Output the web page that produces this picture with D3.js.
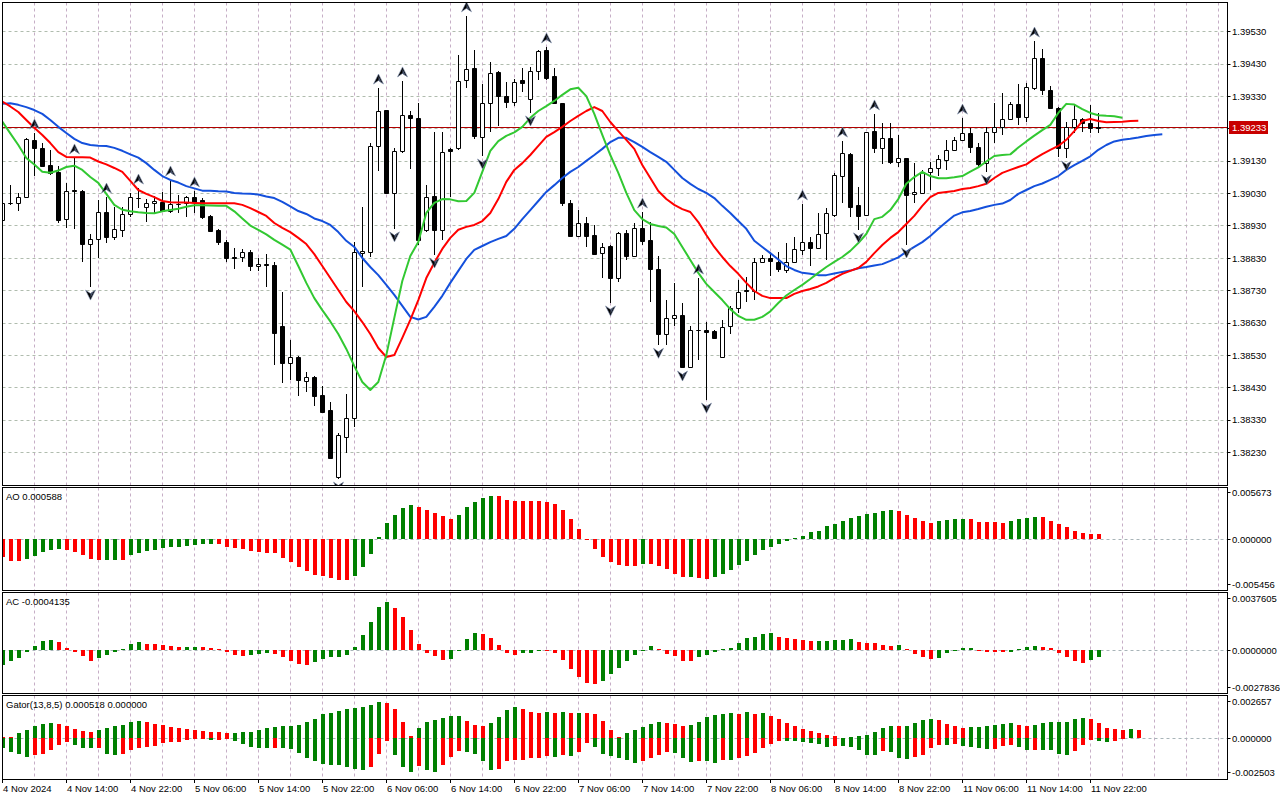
<!DOCTYPE html>
<html>
<head>
<meta charset="utf-8">
<script src="https://cdn.jsdelivr.net/npm/d3@7"></script>
<style>
  body { margin: 0; background: #fff; }
  text { font-family: "Liberation Sans", Arial, sans-serif; font-size: 9.5px; fill: #000; }
</style>
</head>
<body>
<svg id="chart" width="1280" height="800"></svg>
<script>
// hourly bars, 4 Nov 06:00 .. 11 Nov 23:00
const open = [1.38948,1.39001,1.39001,1.39019,1.39196,1.39171,1.39118,1.39097,1.38951,1.39041,
1.39038,1.38874,1.38890,1.38973,1.38896,1.38918,1.38967,1.39016,1.38989,1.39001,
1.39004,1.38976,1.38998,1.39001,1.39019,1.39010,1.38961,1.38918,1.38880,1.38834,
1.38834,1.38850,1.38806,1.38812,1.38809,1.38621,1.38507,1.38525,1.38451,1.38463,
1.38408,1.38361,1.38154,1.38278,1.38337,1.38847,1.38850,1.39177,1.39288,1.39032,
1.39162,1.39273,1.39263,1.38918,1.39023,1.38918,1.39168,1.39171,1.39381,1.39418,
1.39205,1.39310,1.39406,1.39331,1.39313,1.39381,1.39322,1.39409,1.39473,1.39393,
1.39310,1.39001,1.38899,1.38939,1.38902,1.38847,1.38868,1.38769,1.38908,1.38837,
1.38924,1.38887,1.38797,1.38596,1.38646,1.38655,1.38494,1.38609,1.38609,1.38605,
1.38525,1.38621,1.38677,1.38732,1.38729,1.38819,1.38831,1.38819,1.38794,1.38819,
1.38856,1.38880,1.38862,1.38908,1.38964,1.39084,1.39152,1.38995,1.38964,1.39223,
1.39171,1.39202,1.39128,1.39140,1.39029,1.39032,1.39097,1.39109,1.39134,1.39165,
1.39196,1.39217,1.39174,1.39124,1.39220,1.39236,1.39260,1.39307,1.39267,1.39356,
1.39449,1.39350,1.39294,1.39171,1.39236,1.39260,1.39248,1.39236];

const high = [1.39016,1.39056,1.39032,1.39202,1.39217,1.39186,1.39165,1.39115,1.39063,1.39140,
1.39041,1.38905,1.39010,1.39019,1.38989,1.38989,1.39032,1.39047,1.39013,1.39023,
1.39035,1.39072,1.39026,1.39023,1.39038,1.39016,1.38964,1.38921,1.38887,1.38862,
1.38859,1.38856,1.38831,1.38843,1.38819,1.38726,1.38578,1.38528,1.38479,1.38466,
1.38436,1.38386,1.38290,1.38411,1.38880,1.38989,1.39186,1.39356,1.39289,1.39171,
1.39378,1.39285,1.39310,1.39056,1.39220,1.39219,1.39171,1.39458,1.39579,1.39473,
1.39368,1.39436,1.39409,1.39375,1.39384,1.39418,1.39421,1.39473,1.39483,1.39418,
1.39311,1.39010,1.38979,1.38958,1.38933,1.38877,1.38871,1.38911,1.38918,1.38939,
1.38973,1.38942,1.38837,1.38701,1.38754,1.38692,1.38621,1.38769,1.38633,1.38610,
1.38639,1.38683,1.38763,1.38772,1.38831,1.38840,1.38850,1.38850,1.38877,1.38896,
1.38998,1.38896,1.38970,1.38985,1.39094,1.39192,1.39155,1.39050,1.39221,1.39276,
1.39248,1.39248,1.39211,1.39141,1.39124,1.39103,1.39128,1.39149,1.39196,1.39205,
1.39263,1.39233,1.39186,1.39236,1.39310,1.39341,1.39313,1.39368,1.39372,1.39501,
1.39477,1.39362,1.39297,1.39251,1.39304,1.39263,1.39304,1.39279];

const low = [1.38942,1.38995,1.38976,1.39018,1.39084,1.39114,1.39087,1.38939,1.38924,1.38921,
1.38819,1.38741,1.38831,1.38877,1.38887,1.38896,1.38958,1.38985,1.38942,1.38970,
1.38973,1.38970,1.38970,1.38958,1.38970,1.38951,1.38911,1.38871,1.38819,1.38797,
1.38819,1.38791,1.38791,1.38741,1.38500,1.38445,1.38454,1.38405,1.38417,1.38374,
1.38354,1.38210,1.38148,1.38229,1.38309,1.38741,1.38834,1.39100,1.39031,1.38921,
1.39155,1.39106,1.38871,1.38911,1.38840,1.38887,1.39019,1.39165,1.39356,1.39199,
1.39146,1.39220,1.39239,1.39294,1.39301,1.39344,1.39279,1.39381,1.39381,1.39307,
1.38992,1.38896,1.38896,1.38865,1.38840,1.38769,1.38692,1.38757,1.38825,1.38834,
1.38871,1.38695,1.38561,1.38562,1.38621,1.38491,1.38493,1.38516,1.38392,1.38581,
1.38522,1.38596,1.38661,1.38695,1.38701,1.38816,1.38775,1.38788,1.38785,1.38816,
1.38840,1.38806,1.38861,1.38825,1.38958,1.39001,1.38958,1.38918,1.38961,1.39155,
1.39121,1.39121,1.39112,1.38871,1.39001,1.39031,1.39041,1.39084,1.39103,1.39164,
1.39195,1.39155,1.39112,1.39097,1.39186,1.39211,1.39257,1.39242,1.39251,1.39350,
1.39334,1.39293,1.39143,1.39140,1.39217,1.39220,1.39217,1.39217];

const close = [1.39001,1.39000,1.39019,1.39199,1.39171,1.39115,1.39094,1.38948,1.39038,1.39038,
1.38874,1.38890,1.38973,1.38896,1.38921,1.38967,1.39019,1.39015,1.39001,1.39007,
1.38976,1.38998,1.38999,1.39019,1.39004,1.38958,1.38914,1.38880,1.38831,1.38831,
1.38850,1.38806,1.38812,1.38809,1.38599,1.38507,1.38525,1.38454,1.38463,1.38405,
1.38355,1.38213,1.38284,1.38337,1.38850,1.38853,1.39177,1.39285,1.39032,1.39162,
1.39273,1.39263,1.38887,1.39019,1.38918,1.39158,1.39162,1.39378,1.39415,1.39208,
1.39310,1.39402,1.39331,1.39313,1.39375,1.39372,1.39409,1.39470,1.39387,1.39310,
1.39001,1.38899,1.38939,1.38899,1.38843,1.38865,1.38769,1.38908,1.38837,1.38924,
1.38884,1.38797,1.38596,1.38646,1.38655,1.38494,1.38609,1.38608,1.38602,1.38584,
1.38618,1.38677,1.38726,1.38729,1.38819,1.38831,1.38822,1.38797,1.38819,1.38859,
1.38880,1.38862,1.38905,1.38970,1.39087,1.39155,1.38989,1.38961,1.39220,1.39171,
1.39202,1.39128,1.39140,1.39026,1.39035,1.39097,1.39109,1.39137,1.39165,1.39196,
1.39217,1.39174,1.39121,1.39220,1.39236,1.39260,1.39307,1.39267,1.39359,1.39449,
1.39350,1.39294,1.39171,1.39236,1.39260,1.39248,1.39233,1.39233];

// Alligator lines as displayed (already shifted forward 8 / 5 / 3 bars)
const jaw = [1.39307,1.39309,1.39304,1.39297,1.39288,1.39276,1.39257,1.39236,1.39217,1.39199,
1.39186,1.39180,1.39178,1.39177,1.39171,1.39162,1.39151,1.39141,1.39124,1.39103,
1.39084,1.39072,1.39064,1.39053,1.39046,1.39039,1.39039,1.39037,1.39036,1.39032,
1.39030,1.39029,1.39027,1.39021,1.39016,1.39004,1.38990,1.38976,1.38967,1.38953,
1.38945,1.38933,1.38911,1.38884,1.38865,1.38831,1.38803,1.38778,1.38748,1.38717,
1.38683,1.38649,1.38641,1.38649,1.38680,1.38714,1.38754,1.38791,1.38828,1.38856,
1.38868,1.38880,1.38890,1.38899,1.38921,1.38951,1.38979,1.39007,1.39035,1.39056,
1.39078,1.39097,1.39112,1.39131,1.39149,1.39168,1.39189,1.39202,1.39202,1.39189,
1.39174,1.39158,1.39143,1.39128,1.39103,1.39078,1.39060,1.39044,1.39032,1.39016,
1.38992,1.38970,1.38945,1.38921,1.38884,1.38865,1.38846,1.38826,1.38806,1.38794,
1.38785,1.38782,1.38778,1.38778,1.38783,1.38788,1.38792,1.38799,1.38803,1.38808,
1.38812,1.38822,1.38833,1.38850,1.38865,1.38880,1.38899,1.38921,1.38942,1.38962,
1.38972,1.38976,1.38982,1.38989,1.38995,1.38999,1.39010,1.39029,1.39041,1.39053,
1.39061,1.39072,1.39084,1.39103,1.39118,1.39131,1.39145,1.39165,1.39180,1.39191,
1.39196,1.39199,1.39203,1.39208,1.39211,1.39213];

const teeth = [1.39314,1.39299,1.39282,1.39257,1.39233,1.39211,1.39186,1.39158,1.39143,1.39142,
1.39142,1.39141,1.39129,1.39120,1.39109,1.39097,1.39069,1.39041,1.39029,1.39019,
1.39007,1.39003,1.39002,1.39002,1.39001,1.39000,1.39000,1.39000,1.39000,1.39000,
1.38995,1.38985,1.38973,1.38961,1.38939,1.38924,1.38911,1.38893,1.38874,1.38843,
1.38806,1.38769,1.38732,1.38695,1.38667,1.38633,1.38596,1.38553,1.38525,1.38531,
1.38584,1.38640,1.38701,1.38769,1.38816,1.38859,1.38893,1.38918,1.38927,1.38933,
1.38945,1.38970,1.39013,1.39066,1.39103,1.39124,1.39149,1.39177,1.39205,1.39220,
1.39236,1.39254,1.39270,1.39285,1.39297,1.39285,1.39251,1.39223,1.39196,1.39168,
1.39118,1.39078,1.39038,1.39013,1.38995,1.38982,1.38973,1.38942,1.38902,1.38865,
1.38834,1.38806,1.38782,1.38754,1.38729,1.38714,1.38707,1.38707,1.38707,1.38720,
1.38729,1.38735,1.38743,1.38754,1.38769,1.38782,1.38791,1.38800,1.38819,1.38846,
1.38871,1.38893,1.38911,1.38936,1.38961,1.38992,1.39019,1.39032,1.39035,1.39038,
1.39044,1.39047,1.39053,1.39060,1.39078,1.39094,1.39103,1.39112,1.39120,1.39137,
1.39152,1.39165,1.39177,1.39196,1.39223,1.39254,1.39260,1.39254,1.39250,1.39251,
1.39252,1.39254,1.39255];

const lips = [1.39252,1.39216,1.39180,1.39140,1.39120,1.39097,1.39094,1.39101,1.39112,1.39116,
1.39103,1.39081,1.39063,1.39029,1.38995,1.38980,1.38975,1.38972,1.38970,1.38969,
1.38975,1.38979,1.38983,1.38989,1.38994,1.38994,1.38993,1.38992,1.38992,1.38975,
1.38953,1.38931,1.38918,1.38904,1.38887,1.38872,1.38857,1.38806,1.38754,1.38707,
1.38670,1.38635,1.38596,1.38550,1.38497,1.38448,1.38423,1.38448,1.38531,1.38646,
1.38760,1.38837,1.38880,1.38970,1.39001,1.39013,1.39012,1.39006,1.39007,1.39032,
1.39097,1.39162,1.39192,1.39208,1.39219,1.39236,1.39264,1.39285,1.39300,1.39316,
1.39335,1.39352,1.39357,1.39331,1.39276,1.39211,1.39149,1.39094,1.39032,1.38979,
1.38951,1.38936,1.38930,1.38925,1.38905,1.38865,1.38825,1.38785,1.38751,1.38726,
1.38701,1.38673,1.38652,1.38640,1.38640,1.38649,1.38666,1.38692,1.38715,1.38732,
1.38748,1.38766,1.38785,1.38803,1.38819,1.38834,1.38853,1.38877,1.38905,1.38951,
1.38958,1.38979,1.39013,1.39060,1.39081,1.39097,1.39084,1.39077,1.39077,1.39080,
1.39084,1.39098,1.39111,1.39129,1.39146,1.39149,1.39151,1.39172,1.39191,1.39209,
1.39226,1.39242,1.39279,1.39307,1.39305,1.39291,1.39279,1.39272,1.39270,1.39269,
1.39264];

// bar indexes carrying a fractal arrow
const fractalUp = [4, 9, 13, 17, 21, 24, 47, 50, 58, 68, 80, 87, 100, 105, 109, 120, 129];
const fractalDown = [11, 42, 49, 54, 60, 66, 76, 82, 85, 88, 107, 113, 123, 133];

// oscillators, units of 0.0001
const ao = [-19.1,-23.9,-23.9,-22.0,-18.4,-13.6,-11.8,-10.6,-11.8,-14.3,
-17.3,-21.7,-22.8,-22.6,-22.4,-22.9,-17.3,-14.7,-12.9,-11.8,
-9.2,-8.1,-8.0,-7.0,-6.2,-5.5,-5.1,-5.5,-8.1,-9.9,
-10.6,-12.9,-14.3,-14.4,-15.4,-20.9,-25.3,-30.1,-34.9,-38.6,
-40.0,-42.2,-44.8,-44.9,-40.4,-30.1,-16.5,2.2,18.4,27.5,
34.9,37.8,35.3,32.3,29.7,25.7,23.1,27.5,35.3,41.5,
45.2,48.1,47.7,43.3,42.9,42.8,42.0,41.9,41.1,39.3,
33.0,23.1,12.1,-0.4,-11.0,-19.8,-25.3,-28.3,-29.0,-29.1,
-27.2,-27.3,-29.4,-32.3,-37.8,-41.1,-41.0,-42.6,-43.0,-41.5,
-37.5,-33.8,-28.3,-23.9,-17.3,-11.8,-8.1,-5.1,-1.8,1.1,
4.0,7.7,9.9,14.7,17.6,20.9,23.5,25.7,28.6,28.7,
31.2,33.0,31.2,27.5,24.2,20.9,18.7,20.9,21.0,22.4,
23.1,22.4,19.8,19.7,19.6,18.7,20.9,22.4,23.9,24.6,
24.5,20.9,17.6,13.6,8.8,6.6,6.5,5.88];

const ac = [-9.8,-7.1,-4.9,-1.1,2.7,6.0,6.7,5.3,1.3,-1.1,
-3.8,-7.1,-5.3,-3.1,-0.9,0.7,4.0,5.3,4.5,4.0,
3.3,2.7,2.2,2.3,2.4,2.0,1.3,0.7,-1.1,-3.1,
-3.8,-3.3,-2.2,-1.6,-2.7,-4.5,-7.1,-9.3,-9.8,-7.6,
-5.6,-4.5,-4.4,-3.1,2.0,10.0,18.9,29.2,32.5,28.0,
22.3,13.8,4.0,-1.6,-3.8,-6.5,-6.0,0.2,7.3,11.4,
10.7,8.5,3.3,-1.6,-3.3,-1.8,-1.7,-0.3,-0.5,-2.0,
-6.7,-12.7,-17.8,-22.0,-22.3,-20.5,-16.0,-11.6,-7.1,-3.3,
0.2,2.7,0.7,-2.7,-3.8,-7.1,-7.2,-4.5,-3.1,-0.9,
0.7,1.8,5.1,8.5,9.1,10.7,11.4,9.1,8.5,7.3,
6.7,6.2,6.3,6.4,6.7,7.0,7.3,5.3,5.2,5.1,
3.3,3.2,3.6,0.7,-2.7,-4.5,-5.6,-5.3,-1.6,-0.4,
1.3,1.4,-0.4,-0.9,-1.0,-1.1,-0.9,0.7,2.2,2.7,
2.2,1.3,-1.6,-4.5,-7.1,-8.2,-6.5,-4.135];

const gatorUp = [1.08,1.08,3.23,5.38,7.74,9.03,9.68,9.46,7.74,6.02,
4.52,3.87,5.38,6.67,7.96,8.6,10.75,11.18,10.32,9.03,
8.39,7.53,6.67,6.02,5.38,4.52,4.09,3.87,3.44,3.66,
3.87,4.3,5.38,6.88,7.31,7.74,7.96,8.39,10.32,12.26,
15.48,16.56,17.63,18.71,19.35,20.21,21.29,23.22,23.0,18.71,
10.32,1.29,6.45,10.32,11.61,12.9,14.19,14.41,10.97,8.39,
8.17,9.68,13.55,18.06,20.0,18.71,16.77,16.56,16.77,16.13,
16.77,16.13,16.34,16.13,15.48,10.97,5.16,0.65,3.23,5.16,
7.1,9.03,10.32,9.68,9.03,7.74,8.39,10.32,13.55,14.84,
15.48,16.13,15.91,16.77,15.48,16.13,14.19,12.26,9.68,7.74,
5.81,4.52,3.23,1.94,1.29,0.22,0.65,1.29,1.94,3.87,
6.45,7.74,7.63,7.85,9.68,11.61,12.26,11.61,9.03,7.74,
6.45,7.1,7.2,7.74,8.39,9.03,9.68,8.39,7.74,8.39,
9.68,10.32,10.43,10.54,12.26,12.9,12.26,9.68,6.45,5.81,
5.59,6.02,5.18];

const gatorDown = [-6.02,-8.82,-10.32,-12.04,-10.75,-10.32,-7.53,-4.3,-2.37,-4.3,
-6.02,-6.24,-6.02,-9.89,-10.75,-10.32,-7.74,-6.02,-5.38,-4.95,
-3.23,-2.58,-2.15,-1.29,-0.65,-0.43,-1.08,-0.86,-0.65,-1.72,
-3.87,-5.59,-6.45,-6.56,-6.24,-6.45,-6.67,-9.46,-12.47,-14.62,
-16.77,-17.2,-17.42,-18.49,-20.0,-20.64,-18.49,-10.32,-1.72,-10.97,
-18.49,-21.72,-17.85,-20.64,-21.73,-17.42,-12.04,-8.17,-8.82,-10.32,
-14.62,-20.64,-20.0,-14.62,-13.98,-13.76,-12.9,-12.47,-11.18,-12.04,
-10.97,-11.4,-8.82,-3.23,-5.59,-10.32,-11.61,-12.9,-14.19,-15.91,
-14.62,-12.9,-10.97,-9.03,-9.68,-12.9,-15.48,-14.62,-14.84,-15.91,
-13.98,-14.19,-12.9,-11.4,-9.46,-6.24,-3.66,-1.72,-1.83,-1.94,
-2.37,-3.23,-3.87,-5.59,-4.95,-5.16,-5.59,-7.53,-10.75,-10.86,
-8.17,-8.82,-12.69,-13.33,-12.04,-10.75,-6.24,-4.3,-4.41,-3.87,
-4.95,-5.59,-6.24,-6.88,-6.67,-4.95,-4.3,-5.59,-7.53,-7.31,
-7.53,-7.74,-10.11,-10.75,-8.17,-4.3,-1.08,-1.72,-2.37,-1.72,
-0.43];

const priceTicks = [1.38230,1.38330,1.38430,1.38530,1.38630,1.38730,1.38830,
                    1.38930,1.39030,1.39130,1.39230,1.39330,1.39430,1.39530];
const lastPrice = 1.39233;
const timeLabels = ['4 Nov 2024','4 Nov 14:00','4 Nov 22:00','5 Nov 06:00','5 Nov 14:00',
  '5 Nov 22:00','6 Nov 06:00','6 Nov 14:00','6 Nov 22:00','7 Nov 06:00','7 Nov 14:00',
  '7 Nov 22:00','8 Nov 06:00','8 Nov 14:00','8 Nov 22:00','11 Nov 06:00','11 Nov 14:00','11 Nov 22:00'];
const timeBars = [0,8,16,24,32,40,48,56,64,72,80,88,96,104,112,120,128,136];

// ---------------------------------------------------------------
const svg = d3.select('#chart');
const L = 2.5, R = 1227.5;
const panels = {
  main:  {top: 2.5,   bottom: 485.5},
  ao:    {top: 487.5, bottom: 590.5},
  ac:    {top: 592.5, bottom: 693.5},
  gator: {top: 695.5, bottom: 779.5}
};
const GREEN = '#008000', RED = '#ff0000';

const xScale = d3.scaleLinear().domain([0, 145]).range([2.3, 1162.3]);
const px = i => Math.round(xScale(i));
const yMain = d3.scaleLinear().domain([1.38130, 1.39622]).range([484.9, 1.9]);
const yAO = d3.scaleLinear().domain([-54.56, 56.73]).range([589, 488]);
const yAC = d3.scaleLinear().domain([-27.836, 37.605]).range([692, 594]);
const yGt = d3.scaleLinear().domain([-25.03, 26.57]).range([777, 697]);

const defs = svg.append('defs');
Object.entries(panels).forEach(([k, p]) => {
  defs.append('clipPath').attr('id', 'clip-' + k)
    .append('rect').attr('x', L).attr('y', p.top)
    .attr('width', R - L).attr('height', p.bottom - p.top);
});

// vertical grid every 4 bars, all panels
const gridBars = d3.range(4, 153, 4);
Object.values(panels).forEach(p => {
  svg.append('g').selectAll('line').data(gridBars).join('line')
    .attr('x1', d => px(d) + 0.5).attr('x2', d => px(d) + 0.5)
    .attr('y1', p.top).attr('y2', p.bottom)
    .attr('stroke', '#c6aec6').attr('stroke-dasharray', '3,3');
});

// horizontal grid (main)
svg.append('g').selectAll('line').data(priceTicks).join('line')
  .attr('x1', L).attr('x2', R)
  .attr('y1', d => Math.floor(yMain(d)) + 0.5).attr('y2', d => Math.floor(yMain(d)) + 0.5)
  .attr('stroke', '#b0bcae').attr('stroke-dasharray', '3,3');

// zero lines of sub windows
[yAO, yAC, yGt].forEach(s => {
  svg.append('line')
    .attr('x1', L).attr('x2', R)
    .attr('y1', Math.round(s(0)) + 0.5).attr('y2', Math.round(s(0)) + 0.5)
    .attr('stroke', '#a8b4b8').attr('stroke-dasharray', '3,3');
});

// price line
const yLast = Math.floor(yMain(lastPrice)) + 0.5;
svg.append('line').attr('x1', L).attr('x2', R).attr('y1', yLast).attr('y2', yLast)
  .attr('stroke', '#b00000').attr('stroke-width', 1);

// candles
const gC = svg.append('g').attr('clip-path', 'url(#clip-main)');
gC.selectAll('line.wick').data(open).join('line').attr('class', 'wick')
  .attr('x1', (d, i) => px(i) + 0.5).attr('x2', (d, i) => px(i) + 0.5)
  .attr('y1', (d, i) => Math.round(yMain(high[i])))
  .attr('y2', (d, i) => Math.round(yMain(low[i])))
  .attr('stroke', '#000');
gC.selectAll('path.body').data(open).join('path').attr('class', 'body')
  .attr('d', (d, i) => {
    const yo = Math.round(yMain(open[i])), yc = Math.round(yMain(close[i]));
    const top = Math.min(yo, yc) + 0.5, h = Math.abs(yo - yc);
    return `M${px(i) - 1.5},${top}h4v${h}h-4Z`;
  })
  .attr('fill', (d, i) => close[i] >= open[i] ? '#fff' : '#000')
  .attr('stroke', '#000');

// alligator
const line = d3.line().x((d, i) => xScale(i)).y(d => yMain(d));
const gA = svg.append('g').attr('clip-path', 'url(#clip-main)').attr('fill', 'none')
  .attr('stroke-width', 2).attr('stroke-linejoin', 'round');
gA.append('path').datum(jaw).attr('d', line).attr('stroke', '#1450dc');
gA.append('path').datum(teeth).attr('d', line).attr('stroke', '#ff0000');
gA.append('path').datum(lips).attr('d', line).attr('stroke', '#32c832');

// fractal arrows
const gF = svg.append('g').attr('clip-path', 'url(#clip-main)');
function arrow(cx, b, dir) {
  const t = b - dir * 10, n = b - dir * 3.5;
  gF.append('path').attr('d', `M${cx},${t}L${cx + 5},${b}L${cx},${n}L${cx - 5},${b}Z`)
    .attr('fill', '#000').attr('stroke', '#8090b0').attr('stroke-width', 0.6);
  gF.append('path').attr('d', `M${cx},${t + dir * 2}L${cx + 3.6},${b - dir * 0.6}L${cx},${n}Z`)
    .attr('fill', '#4a5670');
}
fractalUp.forEach(i => arrow(px(i) + 0.5, yMain(high[i]) - 4, 1));
fractalDown.forEach(i => arrow(px(i) + 0.5, yMain(low[i]) + 3, -1));

// histograms
function histogram(values, scale, clip, colorOf) {
  const g = svg.append('g').attr('clip-path', `url(#clip-${clip})`);
  const z = Math.round(scale(0));
  g.selectAll('rect').data(values).join('rect')
    .attr('x', (d, i) => px(i) - 1.5)
    .attr('width', 4)
    .attr('y', d => d >= 0 ? Math.round(scale(d)) : z)
    .attr('height', d => Math.max(1, Math.abs(Math.round(scale(d)) - z)))
    .attr('fill', (d, i) => colorOf(values, i))
    .attr('shape-rendering', 'crispEdges');
}
const upDown = first => (v, i) => i === 0 ? first : (v[i] > v[i - 1] ? GREEN : RED);
const absUpDown = first => (v, i) => i === 0 ? first : (Math.abs(v[i]) > Math.abs(v[i - 1]) ? GREEN : RED);
histogram(ao, yAO, 'ao', upDown(RED));
histogram(ac, yAC, 'ac', upDown(GREEN));
histogram(gatorUp, yGt, 'gator', upDown(RED));
histogram(gatorDown, yGt, 'gator', absUpDown(GREEN));

// right scale
const axis = svg.append('g');
function rightLabel(y, txt) {
  axis.append('line').attr('x1', R).attr('x2', R + 3)
    .attr('y1', Math.floor(y) + 0.5).attr('y2', Math.floor(y) + 0.5).attr('stroke', '#000');
  axis.append('text').attr('x', 1232).attr('y', y).attr('dy', '0.35em').text(txt);
}
priceTicks.forEach(p => rightLabel(yMain(p), p.toFixed(5)));
const f6 = v => (v * 1e-4).toFixed(6), f7 = v => (v * 1e-4).toFixed(7);
[[yAO, f6], [yAC, f7], [yGt, f6]].forEach(([s, f]) => {
  const [lo, hi] = s.domain(), [r0, r1] = s.range();
  rightLabel(r1 + 4.5, f(hi));
  rightLabel(s(0), f(0));
  rightLabel(r0 - 4.5, f(lo));
});

// last price tag
axis.append('rect').attr('x', 1229).attr('y', yLast - 6.5).attr('width', 39).attr('height', 13)
  .attr('fill', '#c80000');
axis.append('text').attr('x', 1232).attr('y', yLast).attr('dy', '0.35em')
  .style('fill', '#fff').text(lastPrice.toFixed(5));

// window captions
svg.append('text').attr('x', 6).attr('y', 497).attr('dy', '0.35em')
  .text('AO ' + f6(ao[ao.length - 1]));
svg.append('text').attr('x', 6).attr('y', 602).attr('dy', '0.35em')
  .text('AC ' + f7(ac[ac.length - 1]));
svg.append('text').attr('x', 6).attr('y', 705).attr('dy', '0.35em')
  .text('Gator(13,8,5) ' + f6(gatorUp[gatorUp.length - 1]) + ' 0.000000');

// time scale
const gT = svg.append('g');
gT.selectAll('line').data(timeBars).join('line')
  .attr('x1', d => px(d) + 0.5).attr('x2', d => px(d) + 0.5)
  .attr('y1', 779.5).attr('y2', 783).attr('stroke', '#000');
gT.selectAll('text').data(timeLabels).join('text')
  .attr('x', (d, i) => px(timeBars[i]) + 1).attr('y', 789).attr('dy', '0.35em')
  .text(d => d);

// window frames
Object.values(panels).forEach(p => {
  svg.append('rect').attr('x', L).attr('y', p.top).attr('width', R - L)
    .attr('height', p.bottom - p.top).attr('fill', 'none').attr('stroke', '#000');
});
</script>
</body>
</html>
